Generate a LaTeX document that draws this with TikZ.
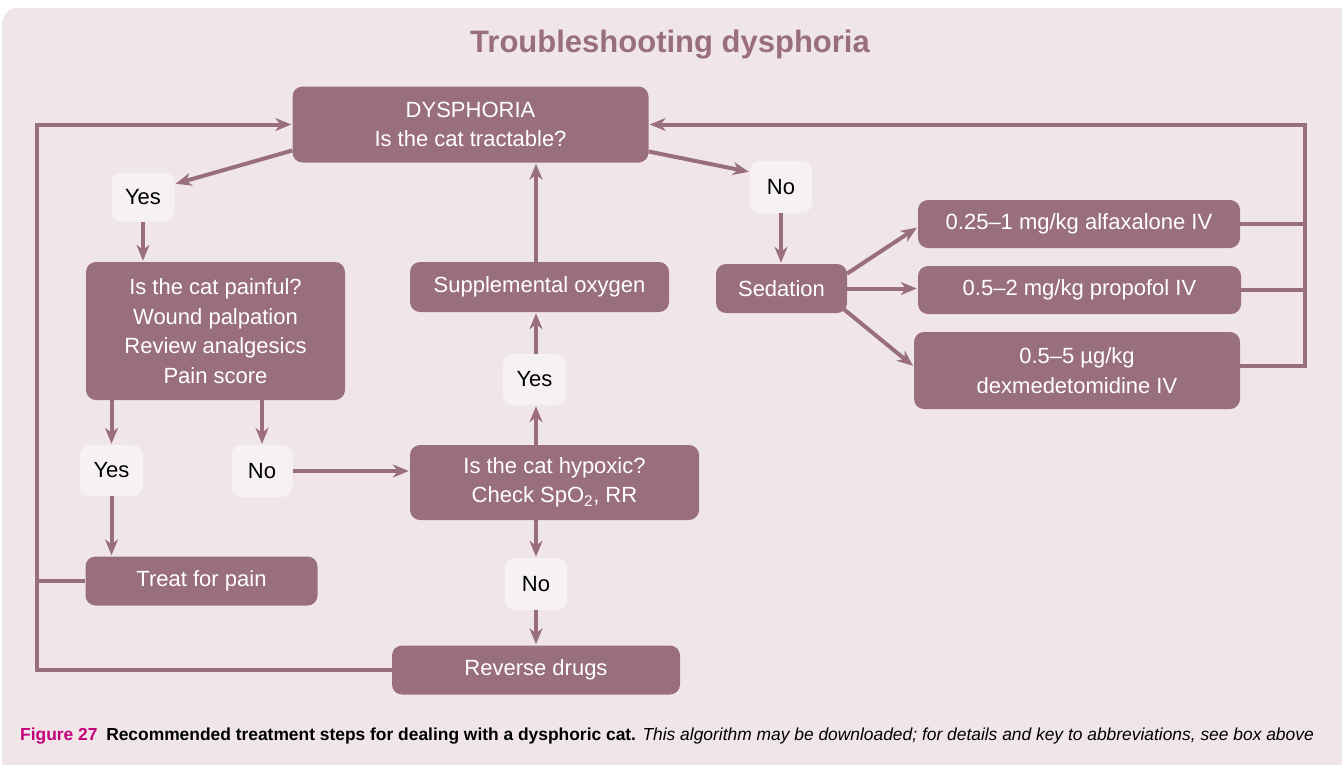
\documentclass[tikz,border=0pt]{standalone}
\usepackage{fontspec}
\setmainfont{Liberation Sans}
\usetikzlibrary{arrows.meta,calc}
\definecolor{boxc}{RGB}{154,111,125}
\definecolor{bgc}{RGB}{240,230,232}
\definecolor{lblc}{RGB}{246,241,243}
\definecolor{capm}{RGB}{196,0,122}
\begin{document}
\begin{tikzpicture}[x=1pt,y=-1pt,
  box/.style={fill=boxc, rounded corners=10pt, text=white, align=center,
    font=\fontsize{22}{29.5}\selectfont, inner sep=0pt},
  lbl/.style={fill=lblc, rounded corners=10pt, text=black, align=center,
    font=\fontsize{22}{29.5}\selectfont, inner sep=0pt},
  con/.style={draw=boxc, line width=4pt},
  arr/.style={con, -{Stealth[length=16pt,width=13pt,inset=5pt]}, shorten >=1pt}]
\useasboundingbox (0,0) rectangle (1342,764);
\fill[white] (0,0) rectangle (1342,764);
\begin{scope}
\clip (0,0) rectangle (1342,764);
\fill[bgc, rounded corners=16pt] (2,8) rectangle (1370,790);
\end{scope}

\node[font=\fontsize{31}{36}\selectfont\bfseries, text=boxc] (title) at (670,45) {Troubleshooting dysphoria};

\node[box, minimum width=356pt, minimum height=76pt] (dys) at (470.5,124.5) {DYSPHORIA\\Is the cat tractable?};
\node[lbl, minimum width=63pt, minimum height=49pt] (yes1) at (143,197) {Yes};
\node[lbl, minimum width=62pt, minimum height=52pt] (no1) at (781,187) {No};
\node[box, minimum width=259pt, minimum height=138pt] (pain) at (215.5,331) {Is the cat painful?\\Wound palpation\\Review analgesics\\Pain score};
\node[box, minimum width=259pt, minimum height=50pt] (oxy) at (539.5,287) {Supplemental oxygen};
\node[box, minimum width=131pt, minimum height=49pt] (sed) at (781.5,288.5) {Sedation};
\node[box, minimum width=322pt, minimum height=48pt] (alf) at (1079,224) {0.25–1 mg/kg alfaxalone IV};
\node[box, minimum width=323pt, minimum height=48pt] (prop) at (1079.5,290) {0.5–2 mg/kg propofol IV};
\node[box, minimum width=326pt, minimum height=77pt] (dex) at (1077,370.5) {0.5–5 µg/kg\\dexmedetomidine IV};
\node[lbl, minimum width=63pt, minimum height=51pt] (yes3) at (534.5,379.5) {Yes};
\node[lbl, minimum width=63pt, minimum height=51pt] (yes2) at (111.5,470.5) {Yes};
\node[lbl, minimum width=61pt, minimum height=52pt] (no2) at (262,471) {No};
\node[box, minimum width=289pt, minimum height=75pt] (hyp) at (554.5,482.5) {Is the cat hypoxic?\\Check SpO\textsubscript{2}, RR};
\node[box, minimum width=232pt, minimum height=49pt] (treat) at (201.5,581) {Treat for pain};
\node[lbl, minimum width=62pt, minimum height=52pt] (no3) at (536,584) {No};
\node[box, minimum width=288pt, minimum height=49pt] (rev) at (536,670) {Reverse drugs};

\coordinate (L) at (36.5,124.5);
\coordinate (R) at (1305,124.5);

% loops
\draw[con] (treat.west) -- (treat.west -| L);
\draw[arr, line join=miter] (rev.west) -| (L) -- (dys.west);
\draw[con] (alf.east) -- (alf.east -| R);
\draw[con] (prop.east) -- (prop.east -| R);
\draw[arr, line join=miter] ([yshift=5pt]dex.east) -| (R) -- (dys.east);

% branches from dysphoria
\draw[arr] ([yshift=-26pt]dys.west) -- ([yshift=13pt]yes1.east);
\draw[arr] ([yshift=-27pt]dys.east) -- ([yshift=15pt]no1.west);
\draw[arr] (yes1.south) -- (yes1.south |- pain.north);
\draw[arr] (no1.south) -- (no1.south |- sed.north);

% sedation options
\draw[arr] ([yshift=15pt]sed.east) -- ([yshift=-3pt]alf.west);
\draw[arr] (sed.east) -- (sed.east -| prop.west);
\draw[arr] ([xshift=-3pt,yshift=-21pt]sed.east) -- ([yshift=4pt]dex.west);

% pain branch
\draw[arr] (pain.south -| yes2.north) -- (yes2.north);
\draw[arr] (pain.south -| no2.north) -- (no2.north);
\draw[arr] (yes2.south) -- (yes2.south |- treat.north);
\draw[arr] (no2.east) -- (no2.east -| hyp.west);

% hypoxia branch
\draw[arr] ([xshift=1.5pt]yes3.south |- hyp.north) -- ([xshift=1.5pt]yes3.south);
\draw[arr] ([xshift=1.5pt]yes3.north) -- ([xshift=1.5pt]yes3.north |- oxy.south);
\draw[arr] ([xshift=1.5pt]yes3.north |- oxy.north) -- ([xshift=1.5pt]yes3.north |- dys.south);
\draw[arr] (no3.north |- hyp.south) -- (no3.north);
\draw[arr] (no3.south) -- (no3.south |- rev.north);

\node[anchor=west, inner sep=0pt, font=\fontsize{17.4}{20}\selectfont] (cap) at (20,736)
  {{\color{capm}\bfseries Figure 27}\enspace{\bfseries Recommended treatment steps for dealing with a dysphoric cat.} {\itshape This algorithm may be downloaded; for details and key to abbreviations, see box above}};
\end{tikzpicture}
\end{document}
